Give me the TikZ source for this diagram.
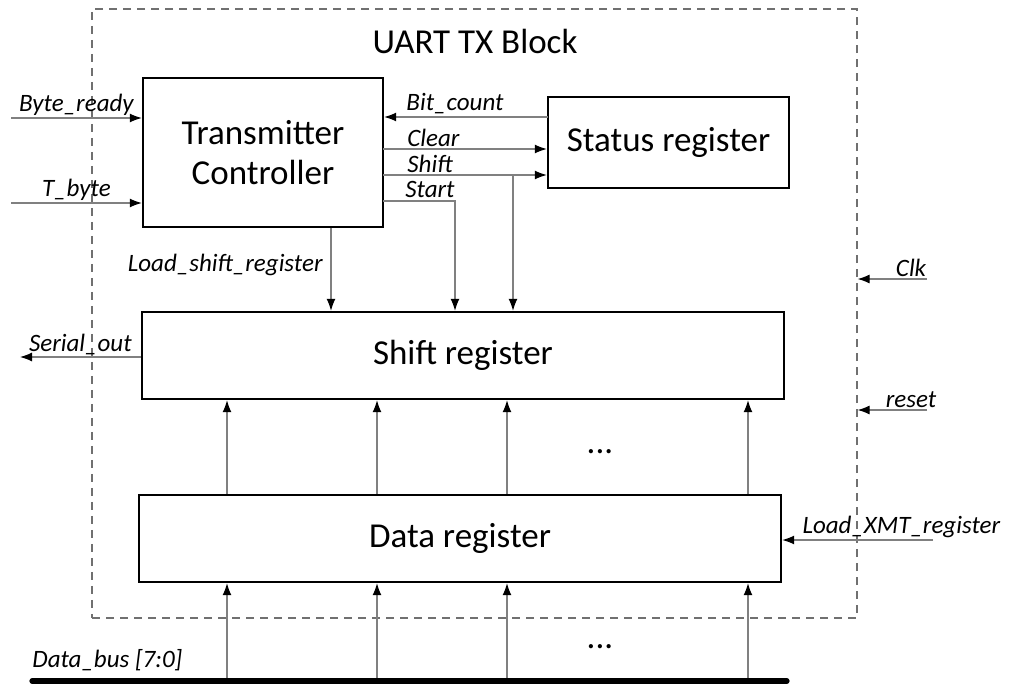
\documentclass[tikz,border=0pt]{standalone}
\usepackage{fontspec}
\setmainfont{Carlito}
\usetikzlibrary{arrows.meta,calc,positioning}
\definecolor{wiregray}{HTML}{808080}
\definecolor{framegray}{HTML}{707070}

\begin{document}
\begin{tikzpicture}[x=0.5pt,y=-0.5pt,
  blk/.style={draw,line width=1.2pt,inner sep=0pt,align=center,font=\fontsize{17.5}{20}\selectfont},
  sig/.style={wiregray,line width=0.6pt,-{Latex[length=6pt,width=4.5pt,color=black]}},
  lbl/.style={text=black,font=\fontsize{12.5}{14}\selectfont\itshape,inner sep=1pt}]
\useasboundingbox (0,0) rectangle (1009,685);
% outer block
\node[draw=framegray,dashed,dash pattern=on 4pt off 3pt,line width=0.6pt,minimum width=382.5pt,minimum height=304.5pt,inner sep=0pt] (txblk) at (474.5,313.5) {};
\node[font=\fontsize{17.5}{20}\selectfont] (title) at (475,41) {UART TX Block};
% blocks
\node[blk,minimum width=120pt,minimum height=74.5pt] (ctrl) at (263,152.5) {Transmitter\\Controller};
\node[blk,minimum width=120.5pt,minimum height=45.5pt] (status) at (668.5,142.5) {Status register};
\node[blk,minimum width=321pt,minimum height=43.5pt] (shiftreg) at (463,355.5) {Shift register};
\node[blk,minimum width=321pt,minimum height=43.5pt] (datareg) at (460,538.5) {Data register};
% tap points
\coordinate (byin) at (11,118);
\coordinate (tbin) at (11,203);
\coordinate (bitc) at (548,117);
\coordinate (clr) at (383,149);
\coordinate (shf) at (383,175);
\coordinate (shfb) at (513,175);
\coordinate (stt) at (383,201);
\coordinate (sttb) at (455,201);
\coordinate (lsr) at (331,227);
\coordinate (sout) at (20,357);
\coordinate (clk) at (927,279);
\coordinate (rst) at (927,410);
\coordinate (lxmt) at (933,540);
\coordinate (bus-l) at (32,681);
\coordinate (bus-r) at (787,681);
% inputs of the controller
\draw[sig] (byin) -- (byin -| ctrl.west) node[lbl,midway,above] (byl) {Byte\_ready};
\draw[sig] (tbin) -- (tbin -| ctrl.west) node[lbl,midway,above] (tbl) {T\_byte};
% controller <-> status register
\draw[sig] (bitc) -- (bitc -| ctrl.east);
\node[lbl] (bitl) at (455,104) {Bit\_count};
\draw[sig] (clr) -- (clr -| status.west);
\node[lbl,anchor=west] (clrl) at (405,138) {Clear};
\draw[sig] (shf) -- (shf -| status.west);
\draw[sig] (shfb) -- (shfb |- shiftreg.north);
\node[lbl,anchor=west] (shfl) at (405,164) {Shift};
\draw[sig] (stt) -- (sttb) -- (sttb |- shiftreg.north);
\node[lbl,anchor=west] (sttl) at (403,189) {Start};
\draw[sig] (lsr |- ctrl.south) -- (lsr |- shiftreg.north);
\node[lbl,anchor=east] (lsrl) at (325,265) {Load\_shift\_register};
% outputs and external inputs
\draw[sig] (sout -| shiftreg.west) -- (sout) node[lbl,midway,above] (soutl) {Serial\_out};
\draw[sig] (clk) -- (clk -| txblk.east) node[lbl,pos=0.23,above] (clkl) {Clk};
\draw[sig] (rst) -- (rst -| txblk.east) node[lbl,pos=0.23,above] (rstl) {reset};
\draw[sig] (lxmt) -- (lxmt -| datareg.east) node[lbl,pos=0.21,above] (lxmtl) {Load\_XMT\_register};
% parallel data lines
\foreach \x in {227,377,507,748} {
  \draw[sig] (\x,0 |- bus-l) -- (\x,0 |- datareg.south);
  \draw[sig] (\x,0 |- datareg.north) -- (\x,0 |- shiftreg.south);
}
\node[font=\fontsize{17.5}{20}\selectfont,anchor=base] (dots1) at (600,453) {...};
\node[font=\fontsize{17.5}{20}\selectfont,anchor=base] (dots2) at (600,648) {...};
% data bus
\draw[line width=2.6pt,line cap=round] (bus-l) -- (bus-r);
\node[lbl,anchor=west] (busl) at (30,660) {Data\_bus [7:0]};
\end{tikzpicture}
\end{document}
